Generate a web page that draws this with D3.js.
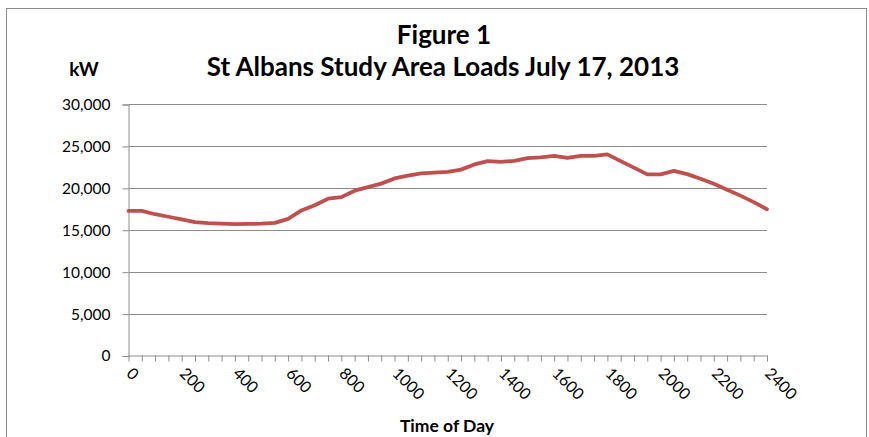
<!DOCTYPE html>
<html>
<head>
<meta charset="utf-8">
<script src="https://cdn.jsdelivr.net/npm/d3@7"></script>
<style>
  body { margin: 0; background: #fff; }
  svg { font-family: Lato, "Open Sans", sans-serif; }
</style>
</head>
<body>
<div id="chart-area"></div>
<script>
// dados - hora do dia (meia hora) e carga em kW
const times = [0, 50, 100, 150, 200, 250, 300, 350, 400, 450, 500, 550, 600, 650, 700, 750,
  800, 850, 900, 950, 1000, 1050, 1100, 1150, 1200, 1250, 1300, 1350, 1400, 1450, 1500, 1550,
  1600, 1650, 1700, 1750, 1800, 1850, 1900, 1950, 2000, 2050, 2100, 2150, 2200, 2250, 2300, 2350, 2400]
const loads = [17250, 17250, 16850, 16550, 16250, 15900, 15780, 15720, 15680, 15700, 15720, 15820,
  16300, 17300, 17930, 18700, 18890, 19660, 20080, 20500, 21120, 21450, 21720, 21810,
  21910, 22170, 22790, 23190, 23100, 23220, 23550, 23630, 23820, 23580, 23820, 23820,
  23990, 23190, 22410, 21600, 21600, 22030, 21640, 21080, 20480, 19780, 19070, 18290, 17450]
const xTicks = [0, 200, 400, 600, 800, 1000, 1200, 1400, 1600, 1800, 2000, 2200, 2400]
const yTicks = [0, 5000, 10000, 15000, 20000, 25000, 30000]

const WIDTH = 869
const HEIGHT = 437
const PLOT = { LEFT: 128.5, RIGHT: 767, TOP: 104, BOTTOM: 355.5 }

const svg = d3.select("#chart-area").append("svg")
  .attr("width", WIDTH)
  .attr("height", HEIGHT)

// moldura
svg.append("rect")
  .attr("x", 6.5).attr("y", 8.5)
  .attr("width", 860).attr("height", 440)
  .attr("fill", "none")
  .attr("stroke", "#8c8c8c")

const x = d3.scaleLinear()
  .domain([0, 2400])
  .range([PLOT.LEFT, PLOT.RIGHT])

const y = d3.scaleLinear()
  .domain([0, 30000])
  .range([PLOT.BOTTOM, PLOT.TOP])

// grade
svg.append("g")
  .selectAll("line")
  .data(yTicks.slice(1))
  .enter().append("line")
  .attr("x1", PLOT.LEFT).attr("x2", PLOT.RIGHT)
  .attr("y1", d => Math.round(y(d)) + 0.5)
  .attr("y2", d => Math.round(y(d)) + 0.5)
  .attr("stroke", "#8c8c8c")

// eixo y
const yAxis = svg.append("g")
  .attr("transform", `translate(${PLOT.LEFT}, 0.5)`)
  .call(d3.axisLeft(y).tickValues(yTicks).tickSize(6).tickPadding(12)
    .tickFormat(d3.format(",")))
yAxis.select(".domain").attr("stroke", "#8c8c8c")
yAxis.selectAll(".tick line").attr("stroke", "#8c8c8c")
yAxis.selectAll("text")
  .attr("font-size", "15.5px")
  .attr("fill", "#000")
  .attr("font-family", "Lato, sans-serif")

// eixo x
const xAxis = svg.append("g")
  .attr("transform", `translate(0, ${PLOT.BOTTOM})`)
  .call(d3.axisBottom(x).tickValues(times).tickSize(6).tickSizeOuter(0).tickFormat(""))
xAxis.select(".domain").attr("stroke", "#8c8c8c")
xAxis.selectAll(".tick line").attr("stroke", "#8c8c8c")

// rotulos x
svg.append("g")
  .selectAll("text")
  .data(xTicks)
  .enter().append("text")
  .attr("transform", d => `translate(${x(d) - 3}, ${PLOT.BOTTOM + 19}) rotate(45)`)
  .attr("font-size", "16px")
  .attr("text-anchor", "start")
  .text(d => d)

// linha
const line = d3.line()
  .x((d, i) => x(times[i]))
  .y(d => y(d))

svg.append("path")
  .datum(loads)
  .attr("d", line)
  .attr("fill", "none")
  .attr("stroke", "#c0504d")
  .attr("stroke-width", 3.8)
  .attr("stroke-linejoin", "round")
  .attr("stroke-linecap", "round")

// titulos
svg.append("text")
  .attr("x", 444).attr("y", 44)
  .attr("text-anchor", "middle")
  .attr("font-size", "26px")
  .attr("font-weight", "bold")
  .text("Figure 1")

svg.append("text")
  .attr("x", 443).attr("y", 76)
  .attr("text-anchor", "middle")
  .attr("font-size", "26px")
  .attr("font-weight", "bold")
  .text("St Albans Study Area Loads July 17, 2013")

svg.append("text")
  .attr("x", 84).attr("y", 76)
  .attr("text-anchor", "middle")
  .attr("font-size", "19px")
  .attr("font-weight", "bold")
  .text("kW")

svg.append("text")
  .attr("x", 447).attr("y", 432)
  .attr("text-anchor", "middle")
  .attr("font-size", "17.5px")
  .attr("font-weight", "bold")
  .text("Time of Day")
</script>
</body>
</html>
